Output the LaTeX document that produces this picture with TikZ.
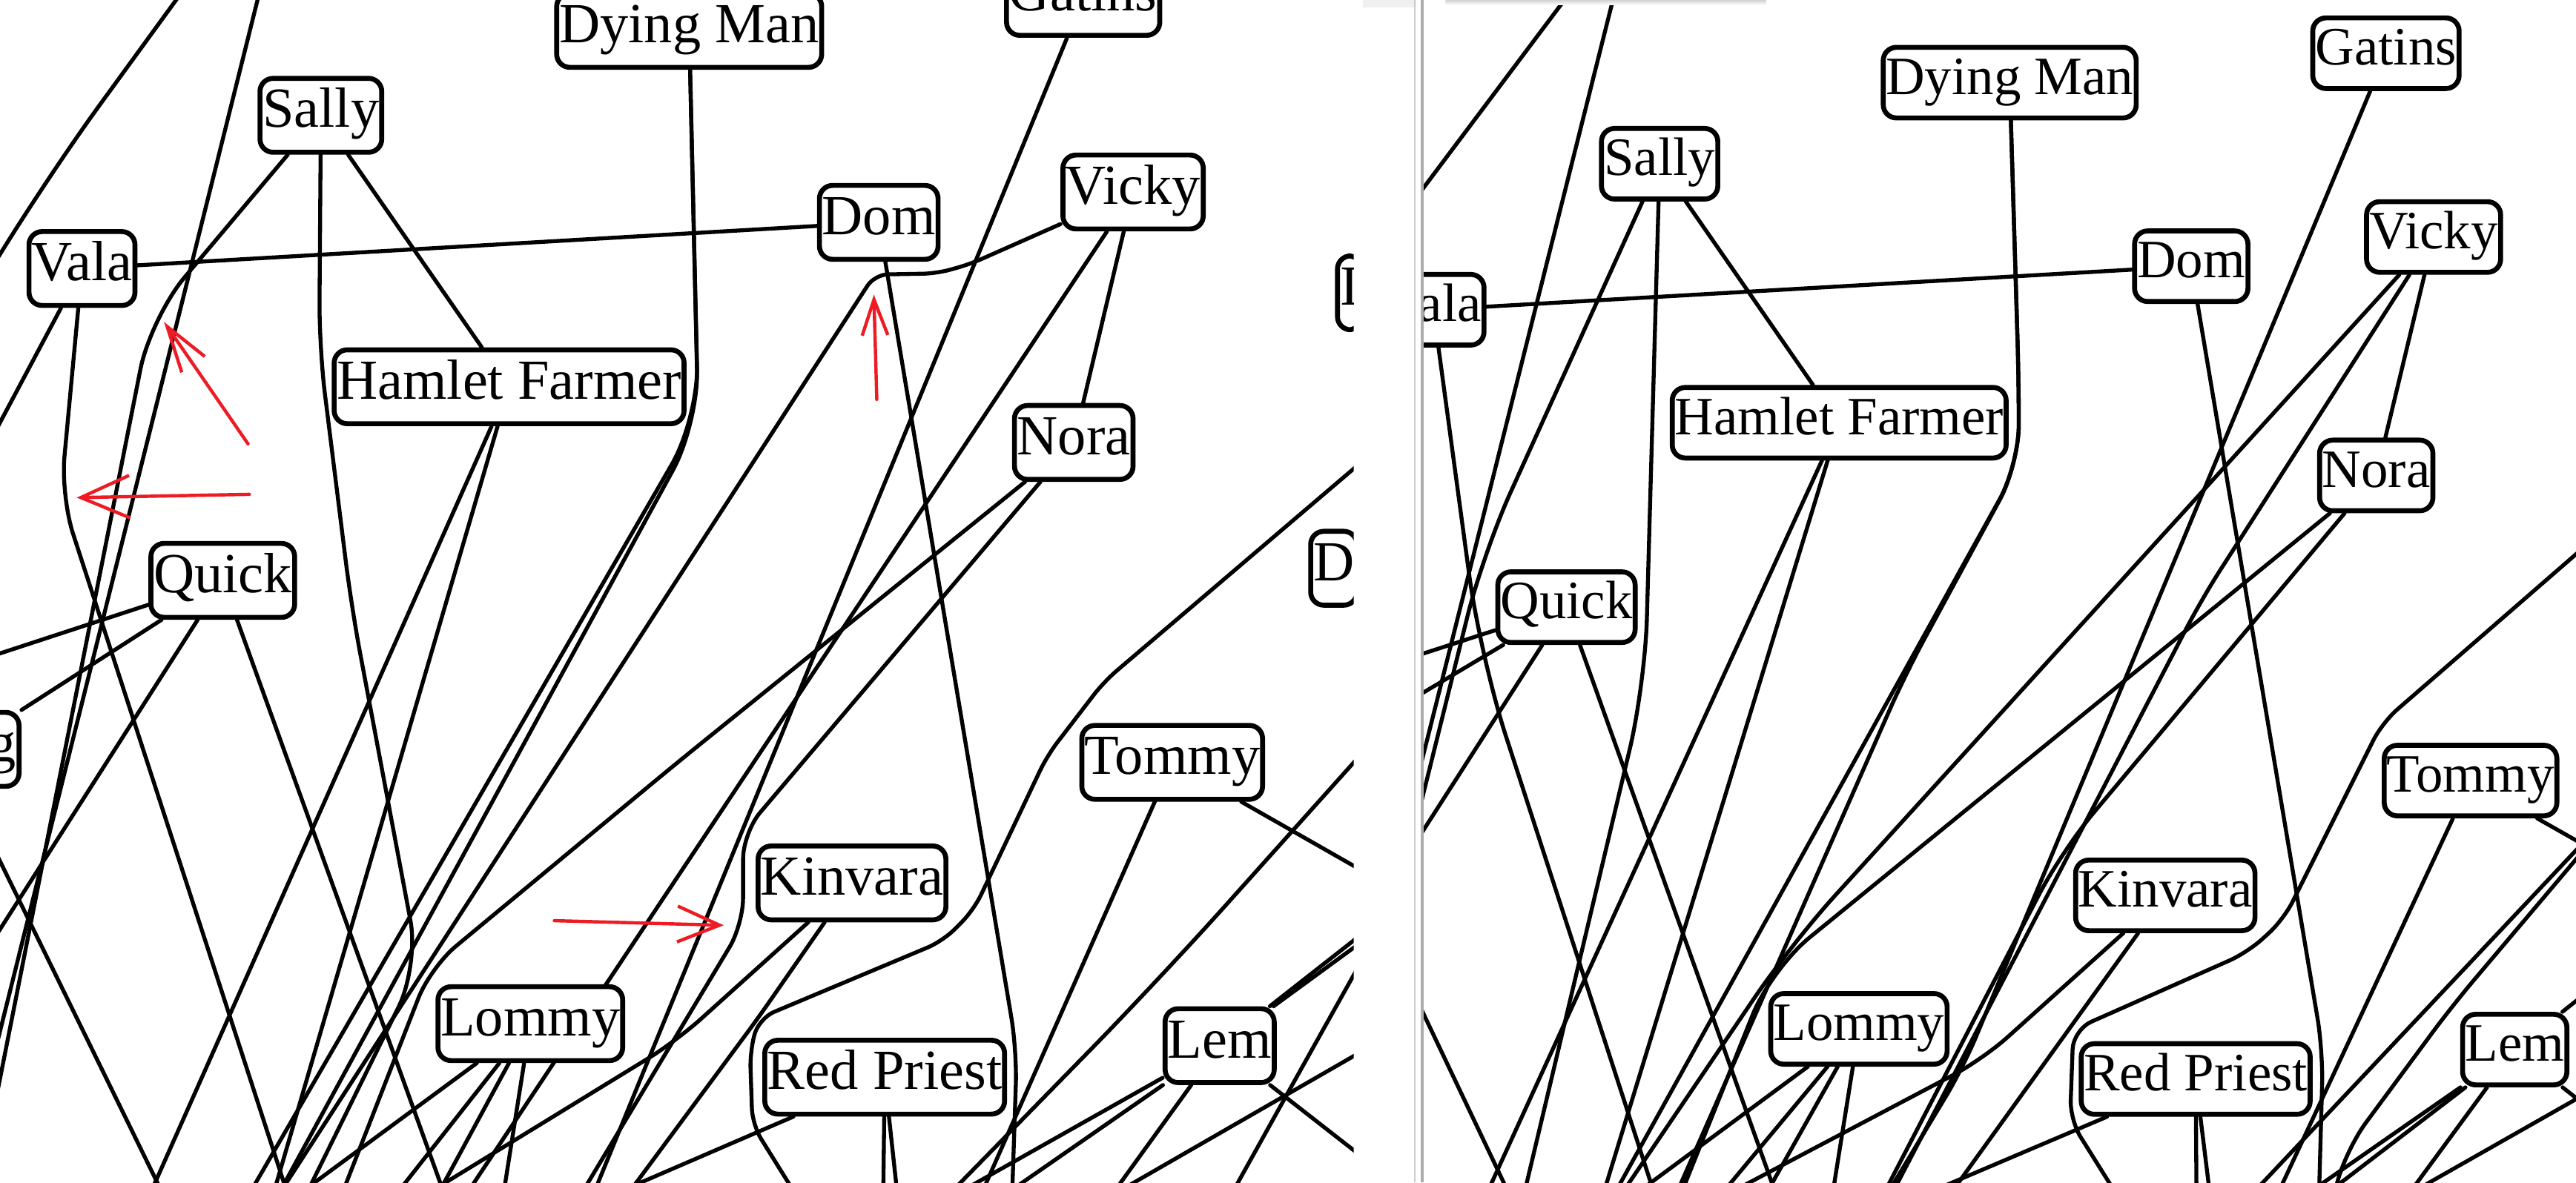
\documentclass[tikz,border=0pt]{standalone}
\usepackage{fontspec}
\setmainfont{Liberation Serif}
\usepackage{xcolor}
\usepackage{tikz}
\usetikzlibrary{arrows.meta}
\definecolor{markred}{RGB}{237,28,36}
\tikzstyle{person}=[draw, line width=1.5pt, fill=white, rounded corners=4pt, inner xsep=0.8pt, inner ysep=0pt]
\tikzstyle{personL}=[person, font=\fontsize{17.25pt}{20pt}\selectfont, text height=11.7pt, text depth=4.3pt, minimum height=22.5pt]
\tikzstyle{personR}=[person, font=\fontsize{16.45pt}{19pt}\selectfont, text height=11.2pt, text depth=4.1pt, minimum height=21.5pt]
\tikzstyle{link}=[line width=1.2pt, rounded corners=6pt, line cap=round, line join=round]
\tikzstyle{redpen}=[markred, line width=1pt, line cap=round]
\pgfdeclarelayer{paper}
\pgfdeclarelayer{edges}
\pgfsetlayers{paper,edges,main}

\begin{document}
\begin{tikzpicture}[x=0.5pt, y=-0.5pt]
    \useasboundingbox (0,0) rectangle (1568,720);
    \begin{pgfonlayer}{paper}
        \fill[white] (0,0) rectangle (1568,720);
    \end{pgfonlayer}

    % Left window: people
    \begin{scope}
        \clip (0,0) rectangle (824,720);
        \node[personL] (dyingL) at (419.5,18.5) {Dying Man};
        \node[personL] (gatinsL) at (659.3,-1) {Gatins};
        \node[personL] (sallyL) at (195.3,70.2) {Sally};
        \node[personL] (valaL) at (49.9,163.5) {Vala};
        \node[personL] (domL) at (534.9,135.4) {Dom};
        \node[personL] (vickyL) at (689.7,116.9) {Vicky};
        \node[personL] (hamletL) at (309.9,235.5) {Hamlet Farmer};
        \node[personL] (noraL) at (653.6,269.4) {Nora};
        \node[personL] (quickL) at (135.6,353.4) {Quick};
        \node[personL, anchor=east] (gL) at (13.1,456.3) {g};
        \node[personL, anchor=west] (iL) at (812.6,178.3) {I};
        \node[personL, anchor=west] (dL) at (796.3,346) {D};
        \node[personL] (tommyL) at (713.5,464.2) {Tommy};
        \node[personL] (kinvaraL) at (518.6,537.6) {Kinvara};
        \node[personL] (lommyL) at (322.8,623.3) {Lommy};
        \node[personL] (redpriestL) at (538.5,655.9) {Red Priest};
        \node[personL] (lemL) at (742.4,636.7) {Lem};
    \end{scope}

    % Right window: people
    \begin{scope}
        \clip (866.5,0) rectangle (1568,720);
        \node[personR] (dyingR) at (1223.3,50.3) {Dying Man};
        \node[personR] (gatinsR) at (1452.3,32.4) {Gatins};
        \node[personR] (sallyR) at (1010.2,99.7) {Sally};
        \node[personR] (domR) at (1333.8,162.1) {Dom};
        \node[personR] (vickyR) at (1481.3,144.3) {Vicky};
        \node[personR, anchor=east] (valaR) at (904.8,188.6) {Vala};
        \node[personR] (hamletR) at (1119.5,257.4) {Hamlet Farmer};
        \node[personR] (noraR) at (1446.4,289.5) {Nora};
        \node[personR] (quickR) at (953.5,369.7) {Quick};
        \node[personR] (tommyR) at (1503.8,475.3) {Tommy};
        \node[personR] (kinvaraR) at (1318,545.2) {Kinvara};
        \node[personR] (lommyR) at (1131.5,626.5) {Lommy};
        \node[personR] (redpriestR) at (1336.5,657) {Red Priest};
        \node[personR] (lemR) at (1530.7,639.1) {Lem};
    \end{scope}

    \begin{pgfonlayer}{edges}
        % Left window: edges
        \begin{scope}
            \clip (0,0) rectangle (824,720);
            \draw[link, rounded corners=30pt] (113,-8) -- (25,113) -- (-8,168);
            \draw[link] (158,-5) -- (-3,640);
            \draw[link, rounded corners=16pt] (sallyL) -- (91.7,193.4) -- (-3,672);
            \draw[link, rounded corners=14pt] (sallyL) -- (194.3,212) -- (214,370) -- (255,588) -- (185,730);
            \draw[link] (sallyL) -- (hamletL);
            \draw[link] (valaL) -- (domL);
            \draw[link] (valaL) -- (-5,266.7);
            \draw[link, rounded corners=12pt] (valaL) -- (37,302) -- (176,730);
            \draw[link] (quickL) -- (-5,399.5);
            \draw[link] (quickL) -- (gL.north east);
            \draw[link] (quickL) -- (-5,573.7);
            \draw[link] (quickL) -- (271.5,730);
            \draw[link] (-8,508) -- (100.6,730);
            \draw[link] (hamletL) -- (90,730);
            \draw[link] (hamletL) -- (165.5,730);
            \draw[link, rounded corners=16pt] (dyingL) -- (425,255) -- (150,730);
            \draw[link, rounded corners=16pt] (dyingL) -- (425,258) -- (168,730);
            \draw[link] (gatinsL) -- (360,730);
            \draw[link, rounded corners=4pt] (vickyL) -- (590,161) -- (570,166.5) -- (532.4,167.2) -- (168,730);
            \draw[link, rounded corners=10pt] (domL) -- (619,640) -- (616,730);
            \draw[link] (vickyL) -- (282,730);
            \draw[link] (vickyL) -- (noraL);
            \draw[link, rounded corners=10pt] (noraL) -- (411.7,464.8) -- (262,589) -- (207,730);
            \draw[link, rounded corners=8pt] (noraL) -- (452.3,507) -- (452.3,563) -- (352,730);
            \draw[link, rounded corners=5pt] (835,276) -- (672,415) -- (637.4,460.1) -- (592.8,554) -- (574,573) -- (462,620) -- (456.5,640) -- (458,685) -- (486,730);
            \draw[link, rounded corners=30pt] (835,452) -- (705.7,596.3) -- (575,730);
            \draw[link] (tommyL) -- (596,730);
            \draw[link] (tommyL) -- (835,533.5);
            \draw[link, rounded corners=10pt] (kinvaraL) -- (411.6,634) -- (255,730);
            \draw[link] (kinvaraL) -- (461.5,619.8) -- (380,730);
            \draw[link] (redpriestL) -- (367,730);
            \draw[link] (redpriestL) -- (537.6,730);
            \draw[link] (redpriestL) -- (546.5,730);
            \draw[link] (lemL) -- (835,564);
            \draw[link] (lemL) -- (835,569);
            \draw[link] (lemL) -- (608,730);
            \draw[link] (lemL) -- (577,730);
            \draw[link] (lemL) -- (675,730);
            \draw[link] (lemL) -- (835,709);
            \draw[link] (835,636.7) -- (673,730);
            \draw[link, rounded corners=10pt] (835,574) -- (789.7,655) -- (748,730);
            \draw[link] (lommyL) -- (178,730);
            \draw[link] (lommyL) -- (239,730);
            \draw[link] (lommyL) -- (265,730);
            \draw[link] (lommyL) -- (306,730);
        \end{scope}

        % Right window: edges
        \begin{scope}
            \clip (866.5,0) rectangle (1568,720);
            \draw[link] (956,-5) -- (860,123);
            \draw[link] (983,-5) -- (860,485);
            \draw[link, rounded corners=20pt] (sallyR) -- (902.9,336.3) -- (860,509);
            \draw[link, rounded corners=20pt] (sallyR) -- (1001.3,417) -- (927,730);
            \draw[link] (sallyR) -- (hamletR);
            \draw[link] (valaR) -- (domR);
            \draw[link, rounded corners=25pt] (valaR) -- (901.1,400.3) -- (1008,730);
            \draw[link] (quickR) -- (860,400);
            \draw[link] (quickR) -- (860,425.5);
            \draw[link] (quickR) -- (860,515.5);
            \draw[link] (quickR) -- (1082,730);
            \draw[link] (hamletR) -- (903.5,730);
            \draw[link] (hamletR) -- (975,730);
            \draw[link, rounded corners=12pt] (dyingR) -- (1228.8,232) -- (1228.8,283) -- (981,730);
            \draw[link, rounded corners=12pt] (dyingR) -- (1228.8,232) -- (1228.8,283) -- (1160,410) -- (1019,730);
            \draw[link, rounded corners=10pt] (gatinsR) -- (1195,650) -- (1147,730);
            \draw[link, rounded corners=10pt] (domR) -- (1414,640) -- (1411.5,730);
            \draw[link, rounded corners=20pt] (vickyR) -- (1090,575) -- (985,730);
            \draw[link, rounded corners=10pt] (vickyR) -- (1340,365) -- (1150,730);
            \draw[link] (vickyR) -- (noraR);
            \draw[link, rounded corners=15pt] (noraR) -- (1078,590) -- (1022,730);
            \draw[link, rounded corners=15pt] (noraR) -- (1255,518) -- (1145,730);
            \draw[link] (1580,327) -- (1450,440) -- (1390,560) -- (1368,580) -- (1262,627) -- (1260,682) -- (1290,730);
            \draw[link] (tommyR) -- (1385,730);
            \draw[link] (tommyR) -- (1580,518.5);
            \draw[link] (1580,505) -- (1368,730);
            \draw[link, rounded corners=10pt] (1580,509) -- (1492.5,612.6) -- (1428,700) -- (1420,730);
            \draw[link] (lemR) -- (1580,600);
            \draw[link] (lemR) -- (1400,730);
            \draw[link] (lemR) -- (1412,730);
            \draw[link] (lemR) -- (1464,730);
            \draw[link] (lemR) -- (1580,678);
            \draw[link] (1580,662.5) -- (1470,725) -- (1460,732);
            \draw[link, rounded corners=10pt] (kinvaraR) -- (1207,645) -- (1046,730);
            \draw[link] (kinvaraR) -- (1185,730);
            \draw[link] (redpriestR) -- (1165,730);
            \draw[link] (redpriestR) -- (1337,730);
            \draw[link] (redpriestR) -- (1345.5,730);
            \draw[link] (lommyR) -- (991.5,730);
            \draw[link] (lommyR) -- (1045.4,730);
            \draw[link] (lommyR) -- (1073.3,730);
            \draw[link] (lommyR) -- (1115,730);
            \draw[link] (860,603.7) -- (920,730);
        \end{scope}
    \end{pgfonlayer}

    % Window frame
    \fill[gray!12] (829.6,0) rectangle (861.9,4.6);
    \shade[top color=gray!35, bottom color=white] (880,0) rectangle (1075,3);
    \draw[gray!40, line width=0.4pt] (861.1,0) -- (861.1,720);
    \draw[gray!65, line width=0.8pt] (865.7,0) -- (865.7,720);

    % Red marks
    \draw[redpen, -{Straight Barb[length=14pt, width=8.5pt]}] (151,270.3) -- (99.8,196);
    \draw[redpen, -{Straight Barb[length=14.8pt, width=12.9pt]}] (151.8,301) -- (46.7,303);
    \draw[redpen, -{Straight Barb[length=10.9pt, width=7.8pt]}] (533.7,243.2) -- (531.9,179.4);
    \draw[redpen, -{Straight Barb[length=12.8pt, width=10.9pt]}] (337.4,560.6) -- (440.5,563.4);
\end{tikzpicture}
\end{document}
